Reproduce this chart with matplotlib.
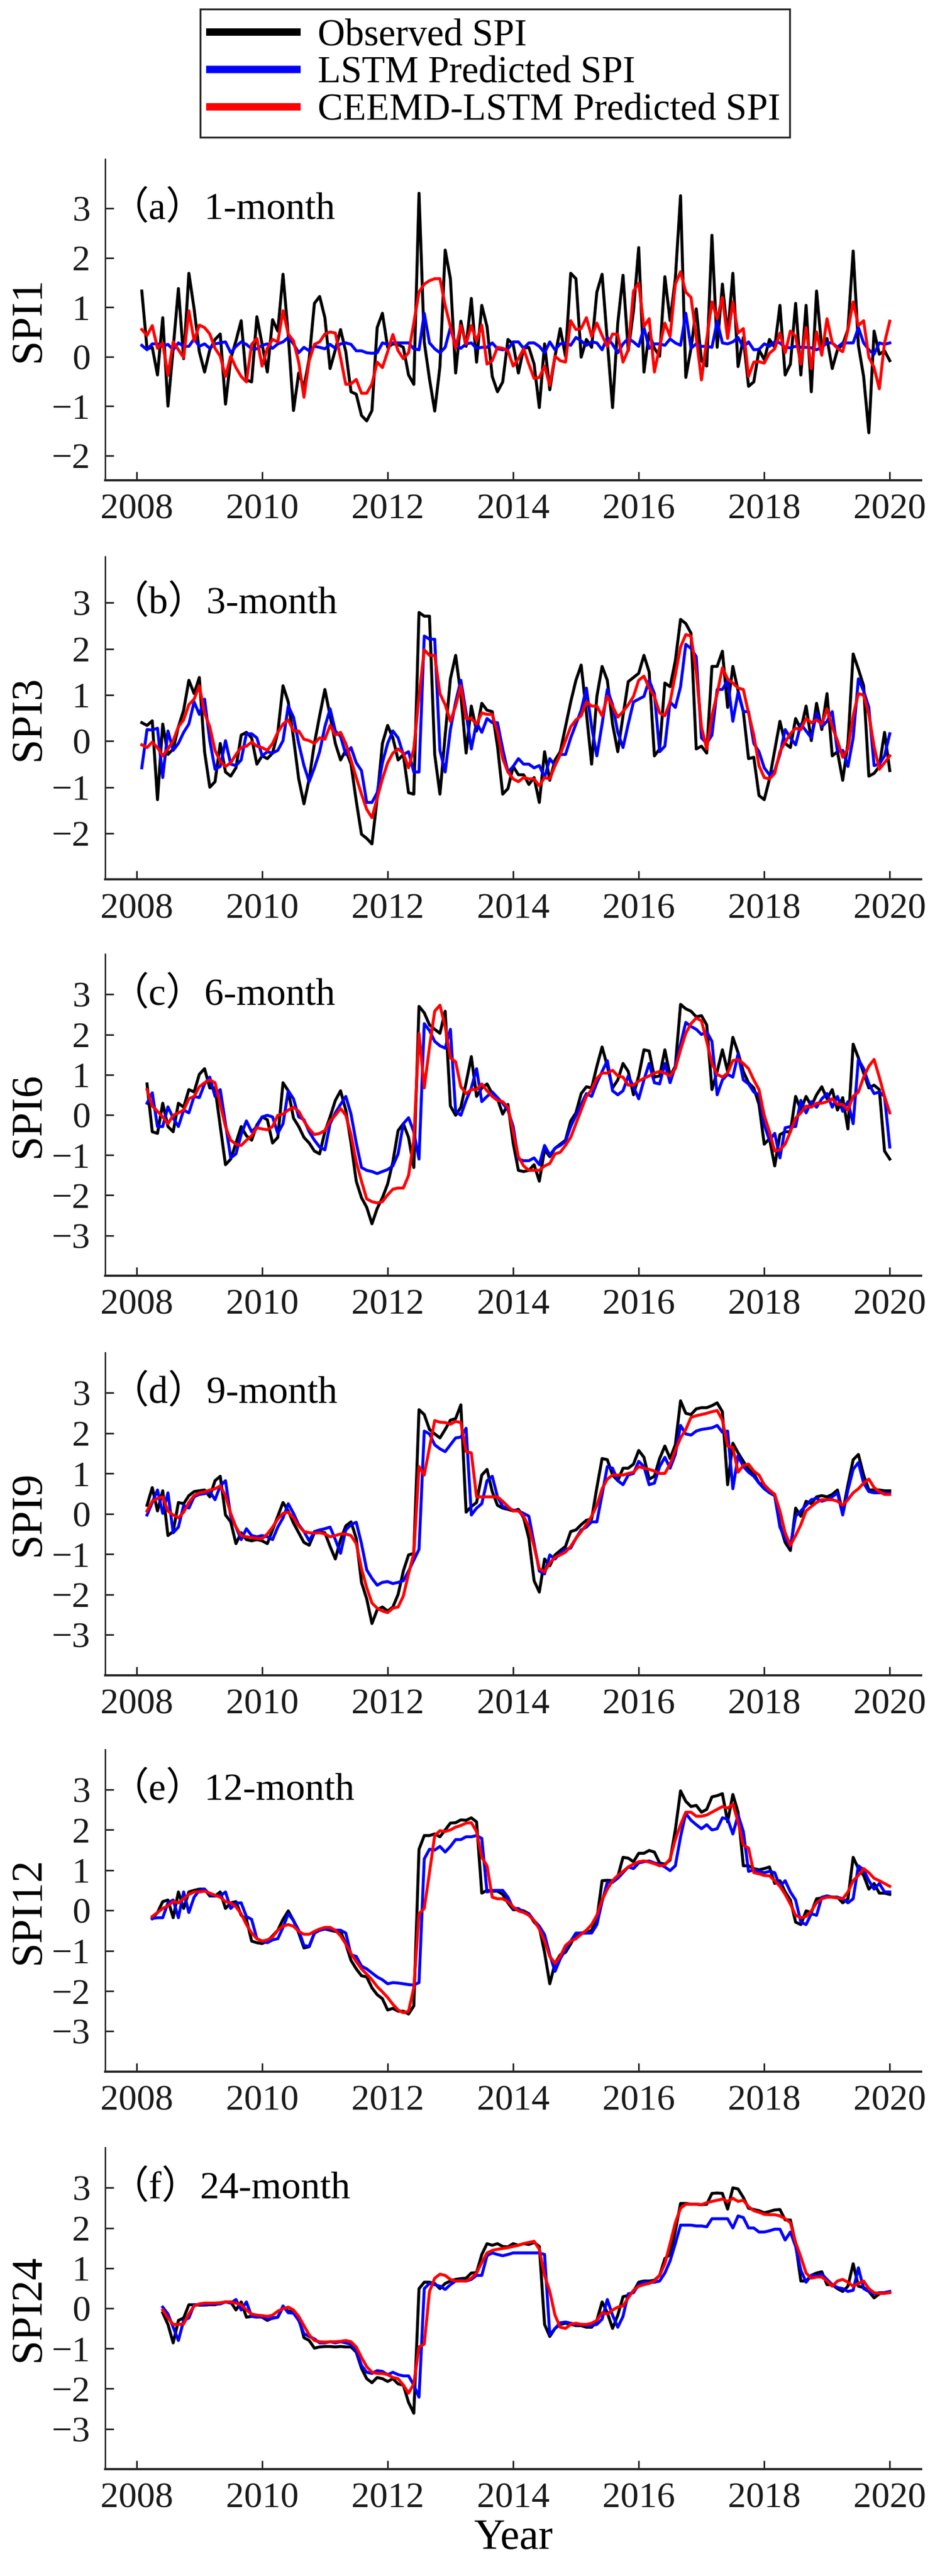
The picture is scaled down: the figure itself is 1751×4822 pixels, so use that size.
import numpy as np
import matplotlib
matplotlib.use("Agg")
import matplotlib.pyplot as plt

plt.rcParams.update({
    "font.family": ["Liberation Serif", "Noto Sans CJK SC"],
    "font.size": 49,
    "axes.unicode_minus": True,
})

# monthly SPI values, series end in Jan 2020
spi1_obs = [1.33, 0.16, 0.19, -0.37, 0.79, -1.00, 0.17, 1.38, -0.04, 1.69, 0.97, 0.10,
            -0.31, 0.14, 0.35, 0.46, -0.96, -0.04, 0.32, 0.73, -0.47, -0.51, 0.81, 0.25,
            -0.31, 0.75, 0.52, 1.67, 0.43, -1.09, -0.33, -0.62, -0.04, 1.08, 1.22, 0.79,
            -0.24, 0.14, 0.55, 0.10, -0.71, -0.76, -1.19, -1.30, -1.09, 0.59, 0.88, 0.19,
            0.26, 0.25, 0.19, -0.37, -0.56, 3.31, 0.30, -0.45, -1.10, -0.20, 2.16, 1.58,
            -0.33, 0.72, 0.21, 1.18, -0.11, 1.04, 0.61, -0.40, -0.71, -0.51, 0.35, 0.25,
            -0.33, 0.17, 0.19, -0.15, -1.03, 0.26, -0.67, 0.01, 0.57, 0.01, 1.69, 1.58,
            -0.01, 0.35, 0.19, 1.31, 1.67, 0.32, -1.03, 0.68, 1.65, 0.12, 0.93, 2.21,
            -0.31, 0.48, 0.17, 0.01, 1.62, 0.73, 1.58, 3.26, -0.42, 0.17, 0.97, -0.08,
            -0.19, 2.46, 0.19, 1.47, 0.43, 1.69, -0.20, 0.39, -0.60, -0.51, 0.14, -0.06,
            0.35, 0.19, 1.04, -0.37, -0.15, 1.08, -0.37, 1.04, -0.71, 1.33, 0.17, 0.37,
            -0.24, 0.14, 0.25, 0.55, 2.14, 0.23, -0.40, -1.54, 0.52, 0.05, 0.12, -0.08]
spi1_lstm = [0.23, 0.14, 0.26, 0.26, 0.21, 0.25, 0.14, 0.28, 0.21, 0.21, 0.36, 0.21,
             0.26, 0.17, 0.26, 0.28, 0.30, 0.08, 0.21, 0.30, 0.25, 0.16, 0.16, 0.23,
             0.26, 0.17, 0.26, 0.30, 0.39, 0.26, 0.08, 0.19, 0.12, 0.21, 0.19, 0.16,
             0.25, 0.17, 0.26, 0.28, 0.25, 0.12, 0.12, 0.08, 0.07, 0.08, 0.28, 0.25,
             0.28, 0.28, 0.28, 0.28, 0.16, 0.14, 0.88, 0.28, 0.16, 0.08, 0.19, 0.59,
             0.25, 0.17, 0.26, 0.28, 0.17, 0.19, 0.19, 0.28, 0.16, 0.14, 0.16, 0.30,
             0.30, 0.17, 0.28, 0.28, 0.21, 0.08, 0.30, 0.14, 0.26, 0.28, 0.23, 0.39,
             0.32, 0.23, 0.30, 0.28, 0.14, 0.39, 0.25, 0.08, 0.26, 0.37, 0.30, 0.21,
             0.59, 0.17, 0.26, 0.26, 0.23, 0.36, 0.28, 0.23, 0.88, 0.17, 0.26, 0.21,
             0.21, 0.19, 0.72, 0.28, 0.26, 0.30, 0.39, 0.19, 0.30, 0.14, 0.15, 0.26,
             0.21, 0.30, 0.28, 0.19, 0.18, 0.21, 0.19, 0.19, 0.18, 0.14, 0.19, 0.28,
             0.28, 0.19, 0.28, 0.28, 0.28, 0.59, 0.28, 0.14, 0.05, 0.28, 0.25, 0.28]
spi1_ceemd = [0.55, 0.43, 0.63, 0.17, 0.28, -0.38, 0.30, 0.14, -0.02, 0.93, 0.32, 0.64,
              0.59, 0.46, 0.17, 0.01, -0.40, 0.01, -0.22, -0.40, -0.51, 0.25, 0.37, -0.19,
              0.17, 0.35, 0.30, 0.93, 0.46, 0.32, -0.11, -0.82, -0.08, 0.25, 0.30, 0.46,
              0.50, 0.48, -0.02, -0.56, -0.55, -0.46, -0.74, -0.74, -0.55, -0.11, -0.22, 0.10,
              0.45, 0.12, -0.04, 0.08, 0.68, 1.31, 1.47, 1.54, 1.58, 1.58, 1.04, 0.61,
              0.17, 0.63, 0.26, 0.63, 0.32, 0.64, -0.15, -0.08, 0.19, 0.17, 0.12, -0.19,
              -0.04, 0.16, -0.15, -0.44, -0.42, -0.19, -0.58, 0.01, -0.08, -0.11, 0.73, 0.55,
              0.57, 0.79, 0.41, 0.68, 0.43, 0.21, 0.46, 0.45, -0.11, 0.14, 1.33, 1.49,
              0.61, 0.77, -0.31, 0.20, 0.68, 0.41, 1.47, 1.72, 1.31, 1.20, 0.40, -0.47,
              0.35, 1.11, 0.77, 1.20, 0.37, 1.11, 0.48, 0.57, -0.40, -0.11, -0.10, -0.13,
              0.07, 0.16, 0.48, 0.08, 0.52, 0.41, -0.15, 0.59, -0.24, 0.50, 0.03, 0.77,
              0.28, 0.17, 0.10, 0.54, 1.11, 0.63, 0.73, -0.01, -0.22, -0.65, 0.28, 0.72]

spi3_obs = [0.40, 0.34, 0.44, -1.27, 0.37, -0.29, -0.17, 0.31, 0.67, 1.32, 1.03, 1.38,
            -0.23, -1.00, -0.88, -0.05, -0.67, -0.76, -0.58, 0.13, 0.19, 0.07, -0.50, -0.32,
            -0.38, -0.26, 0.19, 1.20, 0.85, 0.07, -0.82, -1.36, -0.82, -0.05, 0.55, 1.12,
            0.55, -0.05, -0.41, -0.20, -0.50, -1.30, -2.02, -2.11, -2.23, -1.24, -0.05, 0.34,
            0.07, -0.41, -0.29, -1.12, -1.15, 2.79, 2.71, 2.71, -0.29, -1.15, 0.13, 1.35,
            1.86, 1.00, -0.26, 0.76, 0.22, 0.82, 0.67, 0.64, -0.11, -1.15, -1.03, -0.55,
            -0.73, -0.73, -0.94, -0.79, -1.33, -0.23, -0.85, -0.41, -0.23, 0.31, 0.85, 1.32,
            1.65, 0.61, -0.50, 0.97, 1.62, 1.32, 0.37, -0.23, 0.55, 1.29, 1.38, 1.47,
            1.86, 1.50, -0.32, -0.17, 1.26, 1.18, 1.74, 2.64, 2.55, 2.34, -0.17, -0.11,
            -0.26, 1.62, 1.62, 1.95, 0.73, 1.62, 1.09, 0.64, -0.38, -0.35, -1.18, -1.27,
            -0.82, -0.20, 0.43, -0.05, -0.14, 0.49, 0.25, 0.76, 0.01, 0.82, 0.25, 1.03,
            -0.32, -0.23, -0.85, -0.05, 1.89, 1.56, 1.20, -0.76, -0.70, -0.55, 0.19, -0.64]
spi3_lstm = [-0.58, 0.25, 0.24, 0.28, -0.79, 0.22, -0.20, -0.05, 0.19, 0.37, 0.85, 0.58,
             0.91, 0.01, -0.61, -0.55, 0.01, -0.50, -0.53, -0.41, 0.16, 0.16, 0.07, -0.32,
             -0.23, -0.26, -0.20, 0.01, 0.76, 0.52, -0.05, -0.53, -0.88, -0.58, -0.23, 0.31,
             0.70, 0.22, 0.10, -0.29, -0.14, -0.47, -0.64, -1.33, -1.33, -1.12, -0.47, -0.05,
             0.22, 0.07, -0.29, -0.23, -0.67, -0.67, 2.28, 2.21, 2.21, -0.20, -0.67, 0.25,
             0.85, 1.32, 0.61, -0.17, 0.40, 0.19, 0.49, 0.40, 0.40, -0.17, -0.67, -0.55,
             -0.38, -0.50, -0.50, -0.58, -0.53, -0.79, -0.38, -0.53, -0.29, -0.29, 0.07, 0.37,
             0.67, 1.15, 0.31, -0.32, 0.37, 1.12, 0.79, 0.19, -0.14, 0.37, 0.85, 0.91,
             0.97, 1.32, 1.03, -0.23, -0.11, 0.85, 0.73, 1.18, 2.10, 2.01, 1.83, 0.07,
             -0.05, 0.13, 1.12, 1.12, 1.32, 0.43, 1.06, 0.64, 0.64, -0.05, -0.23, -0.58,
             -0.73, -0.64, -0.29, 0.25, 0.07, -0.08, 0.37, 0.22, 0.07, 0.61, 0.31, 0.43,
             0.64, -0.23, -0.20, -0.55, 0.07, 1.35, 1.09, 0.73, -0.53, -0.50, -0.32, 0.16]
spi3_ceemd = [-0.08, -0.14, -0.02, -0.14, -0.32, -0.17, 0.01, 0.31, 0.46, 0.79, 0.91, 1.20,
              0.61, 0.31, -0.20, -0.44, -0.55, -0.47, -0.29, -0.14, -0.11, -0.02, -0.11, -0.14,
              -0.20, -0.05, 0.19, 0.37, 0.46, 0.22, 0.22, 0.04, 0.01, -0.05, 0.07, 0.04,
              0.34, 0.13, 0.19, -0.05, -0.41, -0.79, -1.15, -1.48, -1.66, -1.24, -0.82, -0.47,
              -0.26, -0.17, -0.26, -0.58, -0.17, 0.97, 1.98, 1.86, 1.86, 1.03, 0.79, 0.43,
              0.76, 1.20, 0.49, 0.49, 0.37, 0.61, 0.58, 0.58, 0.19, -0.38, -0.67, -0.82,
              -0.88, -0.79, -0.82, -0.82, -0.97, -0.79, -0.82, -0.53, -0.29, 0.01, 0.31, 0.46,
              0.55, 0.85, 0.76, 0.76, 0.55, 0.97, 0.76, 0.52, 0.64, 0.79, 0.97, 1.32,
              1.41, 1.15, 0.97, 0.61, 0.55, 0.85, 1.44, 2.04, 2.31, 2.28, 1.50, 0.31,
              -0.17, 0.55, 1.03, 1.59, 1.35, 1.26, 1.15, 1.12, 0.61, 0.13, -0.53, -0.79,
              -0.82, -0.70, -0.23, -0.02, 0.16, 0.28, 0.25, 0.49, 0.40, 0.46, 0.37, 0.70,
              0.31, 0.01, -0.35, -0.17, 0.55, 1.03, 1.00, 0.58, -0.11, -0.61, -0.47, -0.32]

spi6_obs = [0.77, -0.42, -0.46, 0.29, -0.29, -0.42, 0.29, 0.19, 0.63, 0.57, 1.01, 1.15,
            0.67, 0.67, -0.29, -1.24, -1.10, -0.70, -0.29, -0.52, -0.63, -0.25, -0.05, -0.12,
            -0.70, -0.56, 0.80, 0.60, -0.08, -0.29, -0.56, -0.70, -0.90, -0.97, -0.42, -0.05,
            0.36, 0.60, 0.12, -0.70, -1.65, -2.06, -2.30, -2.71, -2.33, -2.06, -1.72, -1.17,
            -0.39, -0.22, -0.56, -1.31, 2.70, 2.54, 2.24, 2.13, 2.03, 2.58, 0.22, -0.01,
            0.19, 0.80, 1.45, 0.46, 0.67, 0.77, 0.53, 0.40, 0.02, 0.26, -0.70, -1.38,
            -1.41, -1.38, -1.24, -1.65, -0.87, -1.04, -0.83, -0.73, -0.63, -0.15, 0.05, 0.53,
            0.70, 0.67, 1.21, 1.69, 1.21, 0.67, 0.87, 1.28, 1.08, 0.50, 0.97, 1.62,
            1.59, 0.94, 0.97, 1.62, 0.97, 1.21, 2.75, 2.64, 2.58, 2.44, 2.47, 2.24,
            0.63, 1.08, 1.62, 1.08, 1.93, 1.55, 1.08, 0.80, 0.67, 0.26, -0.73, -0.59,
            -1.27, -0.49, -0.42, -0.42, 0.46, 0.12, 0.46, 0.22, 0.50, 0.70, 0.40, 0.63,
            0.12, 0.43, -0.35, 1.76, 1.42, 1.04, 0.67, 0.74, 0.63, -0.90, -1.10]
spi6_lstm = [0.29, 0.55, -0.29, -0.29, 0.20, -0.08, -0.29, 0.12, 0.05, 0.46, 0.43, 0.77,
             0.94, 0.46, 0.63, -0.22, -1.07, -0.97, -0.49, -0.15, -0.42, -0.29, -0.05, -0.01,
             -0.05, -0.46, -0.22, 0.60, 0.40, -0.05, -0.12, -0.42, -0.63, -0.80, -0.87, -0.22,
             0.05, 0.26, 0.46, 0.02, -0.70, -1.31, -1.38, -1.41, -1.46, -1.41, -1.36, -1.27,
             -0.97, -0.22, -0.07, -0.42, -1.10, 2.27, 2.10, 1.83, 1.72, 1.66, 2.13, 0.09,
             -0.01, 0.36, 0.67, 1.15, 0.33, 0.46, 0.57, 0.43, 0.29, 0.12, -0.29, -1.10,
             -1.14, -1.14, -1.07, -1.24, -0.76, -1.00, -0.83, -0.76, -0.66, -0.29, -0.01, 0.26,
             0.53, 0.46, 0.80, 1.08, 1.35, 0.60, 0.50, 0.60, 0.97, 0.70, 0.40, 0.87,
             1.28, 0.80, 0.77, 1.28, 0.80, 1.21, 1.76, 2.30, 2.20, 2.13, 2.00, 2.07,
             1.83, 0.50, 0.87, 1.01, 0.94, 1.52, 0.87, 0.77, 0.57, 0.50, -0.25, -0.63,
             -0.46, -1.07, -0.32, -0.29, -0.29, 0.36, 0.05, 0.33, 0.19, 0.40, 0.53, 0.19,
             0.46, 0.09, 0.33, -0.22, 1.38, 1.15, 0.77, 0.53, 0.57, 0.46, -0.80]
spi6_ceemd = [0.63, 0.22, 0.09, -0.05, -0.22, -0.01, 0.05, 0.12, 0.40, 0.46, 0.70, 0.80,
              0.87, 0.80, 0.26, -0.29, -0.63, -0.73, -0.76, -0.63, -0.52, -0.32, -0.35, -0.37,
              -0.29, -0.01, 0.02, 0.12, 0.19, 0.09, -0.15, -0.35, -0.49, -0.46, -0.39, -0.15,
              -0.01, 0.16, -0.01, -0.49, -1.17, -1.65, -2.09, -2.16, -2.19, -2.16, -1.99, -1.85,
              -1.82, -1.82, -1.51, -0.63, 2.03, 0.67, 1.69, 2.58, 2.73, 2.20, 1.42, 1.32,
              0.70, 0.53, 0.63, 0.63, 0.77, 0.60, 0.46, 0.36, 0.33, 0.19, -0.42, -1.04,
              -1.27, -1.38, -1.38, -1.38, -1.27, -1.21, -0.97, -0.93, -0.76, -0.56, -0.22, 0.12,
              0.46, 0.63, 0.91, 1.04, 1.04, 1.11, 0.97, 0.94, 0.74, 0.74, 0.84, 0.91,
              0.97, 1.04, 1.08, 1.04, 0.97, 1.15, 1.62, 2.03, 2.27, 2.41, 2.34, 1.83,
              1.28, 1.01, 0.94, 1.04, 1.35, 1.38, 1.28, 1.15, 0.87, 0.63, -0.01, -0.42,
              -0.90, -0.87, -0.73, -0.42, -0.08, 0.05, 0.22, 0.19, 0.29, 0.29, 0.33, 0.40,
              0.26, 0.26, 0.12, 0.46, 0.57, 0.94, 1.21, 1.38, 0.94, 0.46, 0.05]

spi9_obs = [0.21, 0.65, 0.07, 0.57, -0.54, -0.44, 0.28, 0.25, 0.45, 0.55, 0.57, 0.59,
            0.42, 0.82, 0.93, -0.03, -0.20, -0.74, -0.47, -0.64, -0.67, -0.64, -0.67, -0.74,
            -0.40, -0.06, 0.28, 0.07, -0.23, -0.47, -0.71, -0.78, -0.47, -0.44, -0.47, -0.81,
            -1.12, -0.64, -0.30, -0.20, -0.61, -1.70, -2.11, -2.72, -2.38, -2.31, -2.41, -2.31,
            -2.00, -1.42, -1.02, -0.98, 2.58, 2.46, 2.09, 1.98, 1.88, 2.09, 2.32, 2.36,
            2.70, 0.04, 0.18, 0.28, 0.96, 1.10, 0.55, 0.21, 0.14, 0.11, 0.07, 0.11,
            -0.10, -0.61, -1.66, -1.94, -1.12, -1.29, -1.02, -0.91, -0.81, -0.44, -0.40, -0.27,
            -0.16, -0.13, 0.65, 1.37, 1.34, 0.96, 0.82, 1.13, 1.13, 1.23, 1.57, 1.40,
            0.86, 0.93, 1.37, 1.68, 1.37, 1.71, 2.80, 2.49, 2.46, 2.60, 2.63, 2.63,
            2.68, 2.75, 2.53, 0.72, 1.75, 1.51, 1.30, 1.10, 1.00, 0.76, 0.72, 0.55,
            0.48, -0.27, -0.71, -0.91, 0.14, -0.06, 0.31, 0.25, 0.42, 0.45, 0.42, 0.48,
            0.59, 0.04, 0.72, 1.34, 1.47, 0.96, 0.59, 0.59, 0.59, 0.57, 0.57]
spi9_lstm = [-0.03, 0.28, 0.59, 0.01, 0.52, -0.47, -0.33, 0.21, 0.14, 0.42, 0.48, 0.50,
             0.55, 0.35, 0.69, 0.82, -0.06, -0.33, -0.64, -0.37, -0.54, -0.57, -0.54, -0.57,
             -0.64, -0.33, -0.10, 0.25, 0.01, -0.27, -0.44, -0.67, -0.44, -0.40, -0.37, -0.33,
             -0.64, -0.98, -0.40, -0.27, -0.21, -0.74, -1.39, -1.60, -1.77, -1.70, -1.68, -1.73,
             -1.70, -1.66, -1.42, -1.15, -0.88, 2.05, 1.98, 1.71, 1.61, 1.54, 1.71, 1.88,
             1.90, 2.12, -0.03, 0.14, 0.25, 0.82, 0.93, 0.42, 0.18, 0.14, 0.09, 0.07,
             0.01, -0.06, -0.74, -1.42, -1.49, -1.02, -1.12, -0.98, -0.88, -0.85, -0.61, -0.40,
             -0.33, -0.20, -0.20, 0.48, 1.17, 1.13, 0.82, 0.72, 0.96, 1.00, 1.30, 1.17,
             0.72, 0.76, 1.17, 1.40, 1.13, 1.47, 2.19, 1.98, 1.95, 2.05, 2.09, 2.11,
             2.13, 2.19, 2.02, 2.05, 0.62, 1.44, 1.17, 1.03, 0.93, 0.76, 0.62, 0.52,
             0.45, -0.33, -0.61, -0.81, -0.06, 0.07, 0.21, 0.35, 0.38, 0.31, 0.35, 0.42,
             0.52, -0.03, 0.59, 1.10, 1.27, 0.76, 0.55, 0.52, 0.52, 0.52, 0.50]
spi9_ceemd = [0.07, 0.31, 0.38, 0.42, 0.07, -0.03, -0.10, 0.04, 0.28, 0.45, 0.52, 0.54,
              0.59, 0.62, 0.69, 0.45, 0.01, -0.33, -0.54, -0.57, -0.59, -0.61, -0.62, -0.50,
              -0.33, -0.13, 0.01, 0.04, -0.10, -0.30, -0.44, -0.47, -0.48, -0.47, -0.50, -0.57,
              -0.54, -0.50, -0.50, -0.54, -0.74, -1.36, -1.83, -2.21, -2.34, -2.41, -2.45, -2.34,
              -2.31, -2.04, -1.49, -0.98, 1.17, 0.96, 1.64, 2.31, 2.27, 2.26, 2.22, 2.29,
              2.26, 1.54, 1.51, 0.42, 0.42, 0.42, 0.42, 0.42, 0.31, 0.18, 0.07, 0.07,
              -0.06, -0.33, -0.81, -1.36, -1.44, -1.22, -1.08, -1.02, -0.95, -0.81, -0.61, -0.44,
              -0.27, -0.06, 0.21, 0.62, 0.86, 0.96, 0.96, 0.96, 1.00, 1.03, 1.17, 1.13,
              1.10, 1.06, 1.00, 1.00, 1.23, 1.57, 1.88, 2.09, 2.39, 2.43, 2.46, 2.49,
              2.53, 2.56, 2.32, 1.68, 1.64, 1.03, 1.20, 1.23, 1.06, 0.96, 0.72, 0.59,
              0.48, 0.07, -0.47, -0.78, -0.54, -0.27, 0.07, 0.18, 0.28, 0.35, 0.35, 0.35,
              0.31, 0.21, 0.35, 0.52, 0.62, 0.76, 0.86, 0.65, 0.55, 0.48, 0.48]

spi12_obs = [-0.20, -0.05, 0.22, 0.26, -0.18, 0.46, 0.05, 0.46, 0.50, 0.53, 0.53,
             0.36, 0.36, 0.46, 0.05, 0.19, 0.22, -0.12, -0.22, -0.76, -0.80, -0.82, -0.76,
             -0.63, -0.49, -0.22, -0.01, -0.25, -0.56, -0.93, -0.90, -0.56, -0.49, -0.46, -0.49,
             -0.52, -0.52, -0.83, -1.24, -1.45, -1.62, -1.65, -1.92, -2.09, -2.19, -2.47, -2.43,
             -2.50, -2.50, -2.57, -2.37, 1.52, 1.86, 1.86, 1.90, 1.83, 2.00, 2.17, 2.18,
             2.25, 2.24, 2.30, 2.20, 0.43, 0.50, 0.48, 0.48, 0.40, 0.19, 0.02, 0.02,
             -0.01, -0.08, -0.29, -0.42, -1.04, -1.82, -1.31, -1.10, -1.04, -0.83, -0.59, -0.56,
             -0.56, -0.49, -0.22, 0.74, 0.75, 0.74, 0.84, 1.32, 1.30, 1.21, 1.42, 1.42,
             1.49, 1.45, 1.18, 1.15, 1.25, 2.00, 2.97, 2.71, 2.58, 2.61, 2.44, 2.51,
             2.82, 2.85, 2.90, 2.20, 2.88, 2.44, 1.11, 1.11, 1.04, 1.01, 1.04, 1.08,
             0.67, 0.74, 0.46, 0.26, -0.29, -0.35, -0.01, -0.05, 0.29, 0.31, 0.36, 0.33,
             0.33, 0.19, 0.29, 1.32, 1.04, 0.87, 0.53, 0.67, 0.43, 0.43, 0.40]
spi12_lstm = [-0.20, -0.18, -0.18, 0.19, 0.26, -0.18, 0.46, -0.05, 0.33, 0.50, 0.53,
              0.40, 0.36, 0.36, 0.46, 0.05, 0.18, 0.19, -0.15, -0.22, -0.70, -0.76, -0.80,
              -0.73, -0.70, -0.42, -0.08, -0.25, -0.49, -0.87, -0.89, -0.56, -0.49, -0.46, -0.46,
              -0.49, -0.49, -0.56, -1.10, -1.14, -1.38, -1.45, -1.55, -1.65, -1.72, -1.82, -1.79,
              -1.80, -1.82, -1.84, -1.85, -1.79, 1.28, 1.52, 1.50, 1.59, 1.45, 1.59, 1.76,
              1.76, 1.83, 1.83, 1.86, 1.79, 0.46, 0.50, 0.50, 0.50, 0.33, 0.05, 0.05,
              -0.05, -0.08, -0.25, -0.39, -0.60, -1.10, -1.51, -1.20, -0.97, -0.76, -0.56, -0.56,
              -0.56, -0.56, -0.35, 0.22, 0.70, 0.70, 0.80, 0.94, 1.08, 1.04, 1.18, 1.21,
              1.23, 1.18, 1.15, 1.08, 0.99, 1.11, 1.83, 2.41, 2.24, 2.13, 2.03, 2.13,
              2.00, 2.03, 2.30, 2.27, 1.90, 2.37, 1.96, 0.97, 1.01, 0.97, 0.94, 0.97,
              0.94, 0.60, 0.74, 0.46, 0.26, -0.29, -0.35, -0.08, -0.12, 0.33, 0.36, 0.33,
              0.33, 0.29, 0.19, 0.29, 1.11, 1.01, 0.74, 0.53, 0.67, 0.46, 0.46]
spi12_ceemd = [-0.15, -0.05, 0.05, 0.12, 0.22, 0.19, 0.29, 0.40, 0.46, 0.46, 0.48,
               0.43, 0.38, 0.33, 0.22, 0.19, 0.09, -0.08, -0.35, -0.56, -0.70, -0.76, -0.73,
               -0.66, -0.49, -0.39, -0.35, -0.39, -0.52, -0.59, -0.59, -0.52, -0.46, -0.42, -0.42,
               -0.49, -0.63, -0.83, -1.07, -1.27, -1.45, -1.58, -1.72, -1.89, -2.02, -2.16, -2.33,
               -2.47, -2.54, -2.50, -1.92, -0.08, 0.05, 0.94, 1.86, 1.98, 1.96, 2.00, 2.07,
               2.11, 2.17, 2.18, 1.96, 1.32, 1.11, 0.33, 0.29, 0.29, 0.22, 0.09, -0.01,
               -0.05, -0.12, -0.25, -0.46, -0.76, -1.14, -1.31, -1.14, -0.87, -0.76, -0.70, -0.59,
               -0.49, -0.35, -0.12, 0.26, 0.53, 0.74, 0.87, 0.97, 1.08, 1.15, 1.21, 1.23,
               1.20, 1.16, 1.11, 1.13, 1.28, 1.76, 2.13, 2.44, 2.44, 2.34, 2.34, 2.37,
               2.44, 2.51, 2.58, 2.54, 2.64, 2.20, 1.62, 1.55, 0.94, 0.91, 0.87, 0.86,
               0.74, 0.60, 0.40, 0.16, -0.12, -0.18, -0.15, -0.01, 0.19, 0.29, 0.33, 0.33,
               0.31, 0.29, 0.46, 0.74, 0.87, 1.04, 0.94, 0.80, 0.74, 0.67, 0.60]

spi24_obs = [-0.11, -0.40, -0.86, -0.30, -0.24, 0.09, 0.09, 0.08, 0.08,
             0.09, 0.09, 0.13, 0.16, 0.16, -0.04, 0.16, -0.22, -0.20, -0.20, -0.22, -0.30,
             -0.24, -0.22, 0.03, -0.07, -0.07, -0.24, -0.73, -0.80, -0.99, -0.96, -0.95, -0.95,
             -0.96, -0.95, -0.96, -0.96, -1.09, -1.49, -1.75, -1.85, -1.72, -1.75, -1.82, -1.75,
             -1.88, -1.91, -2.34, -2.61, 0.49, 0.65, 0.65, 0.62, 0.49, 0.62, 0.68, 0.72,
             0.74, 0.75, 0.88, 0.89, 1.34, 1.61, 1.57, 1.61, 1.54, 1.53, 1.61, 1.57,
             1.61, 1.59, 1.64, 1.54, -0.40, -0.70, -0.50, -0.40, -0.37, -0.40, -0.43, -0.43,
             -0.47, -0.47, -0.30, 0.16, -0.11, -0.50, -0.17, 0.29, 0.32, 0.42, 0.65, 0.68,
             0.68, 0.70, 0.82, 1.24, 1.34, 1.93, 2.61, 2.61, 2.59, 2.59, 2.58, 2.59,
             2.86, 2.87, 2.86, 2.47, 3.00, 2.97, 2.76, 2.49, 2.46, 2.43, 2.38, 2.41,
             2.45, 2.46, 2.20, 2.20, 1.61, 0.68, 0.68, 0.82, 0.88, 0.91, 0.59, 0.59,
             0.49, 0.42, 0.55, 1.11, 0.55, 0.52, 0.42, 0.26, 0.36, 0.39, 0.41]
spi24_lstm = [0.03, -0.14, -0.47, -0.80, -0.30, -0.24, 0.09, 0.09, 0.09,
              0.11, 0.11, 0.11, 0.16, 0.13, 0.22, -0.04, 0.16, -0.20, -0.22, -0.20, -0.27,
              -0.25, -0.22, 0.06, -0.11, -0.12, -0.30, -0.63, -0.70, -0.76, -0.86, -0.86, -0.83,
              -0.86, -0.83, -0.86, -0.89, -1.06, -1.42, -1.59, -1.62, -1.55, -1.57, -1.65, -1.59,
              -1.65, -1.68, -1.68, -1.91, -2.21, 0.49, 0.62, 0.59, 0.55, 0.47, 0.59, 0.68,
              0.70, 0.68, 0.72, 0.82, 0.82, 1.31, 1.38, 1.34, 1.31, 1.34, 1.38, 1.38,
              1.38, 1.38, 1.38, 1.38, 1.34, -0.66, -0.50, -0.36, -0.34, -0.37, -0.40, -0.40,
              -0.43, -0.43, -0.40, -0.27, 0.22, -0.17, -0.47, -0.20, 0.36, 0.39, 0.59, 0.65,
              0.65, 0.65, 0.68, 0.88, 1.18, 1.61, 2.07, 2.07, 2.07, 2.05, 2.05, 2.03,
              2.23, 2.23, 2.23, 2.23, 2.00, 2.30, 2.26, 2.00, 2.00, 1.90, 1.90, 1.93,
              1.97, 1.97, 1.70, 1.90, 1.54, 0.95, 0.65, 0.82, 0.82, 0.85, 0.72, 0.59,
              0.52, 0.49, 0.42, 0.45, 1.01, 0.49, 0.42, 0.36, 0.39, 0.39, 0.42]
spi24_ceemd = [-0.04, -0.24, -0.40, -0.40, -0.39, -0.14, 0.06, 0.11, 0.13,
               0.13, 0.13, 0.14, 0.16, 0.16, 0.13, 0.09, -0.04, -0.14, -0.17, -0.18, -0.20,
               -0.17, -0.07, -0.01, 0.03, -0.04, -0.20, -0.43, -0.66, -0.80, -0.83, -0.84, -0.83,
               -0.83, -0.82, -0.80, -0.83, -0.96, -1.22, -1.45, -1.59, -1.62, -1.62, -1.65, -1.72,
               -1.75, -1.91, -2.11, -1.88, -0.96, -0.89, 0.42, 0.75, 0.85, 0.82, 0.72, 0.68,
               0.68, 0.68, 0.75, 0.88, 1.14, 1.38, 1.44, 1.47, 1.49, 1.51, 1.54, 1.57,
               1.61, 1.64, 1.67, 1.47, 0.82, 0.42, -0.17, -0.47, -0.50, -0.40, -0.37, -0.40,
               -0.40, -0.37, -0.30, -0.11, -0.14, -0.04, 0.03, 0.06, 0.26, 0.45, 0.55, 0.59,
               0.62, 0.68, 0.82, 1.11, 1.61, 2.13, 2.49, 2.59, 2.59, 2.59, 2.58, 2.63,
               2.66, 2.69, 2.72, 2.66, 2.74, 2.66, 2.69, 2.53, 2.43, 2.39, 2.34, 2.33,
               2.33, 2.30, 2.23, 2.13, 1.64, 1.28, 0.88, 0.75, 0.78, 0.78, 0.68, 0.55,
               0.68, 0.72, 0.65, 0.55, 0.62, 0.68, 0.49, 0.39, 0.37, 0.37, 0.39]

panel_titles = ["（a）1-month", "（b）3-month", "（c）6-month",
                "（d）9-month", "（e）12-month", "（f）24-month"]
ylabels = ["SPI1", "SPI3", "SPI6", "SPI9", "SPI12", "SPI24"]
observed = [spi1_obs, spi3_obs, spi6_obs, spi9_obs, spi12_obs, spi24_obs]
lstm = [spi1_lstm, spi3_lstm, spi6_lstm, spi9_lstm, spi12_lstm, spi24_lstm]
ceemd = [spi1_ceemd, spi3_ceemd, spi6_ceemd, spi9_ceemd, spi12_ceemd, spi24_ceemd]
year_ticks = [2008, 2010, 2012, 2014, 2016, 2018, 2020]


def month_axis(values):
    # monthly steps, last value at 2020.0
    n = len(values)
    return 2008 + np.arange(145 - n, 145) / 12.0


fig = plt.figure(figsize=(17.51, 48.22), dpi=100)

bottoms = [0.8136, 0.6586, 0.5048, 0.3497, 0.1958, 0.0415]
heights = [0.1246, 0.1253, 0.1248, 0.1253, 0.1251, 0.1248]
ylims = [(-2.5, 4), (-3, 4), (-4, 4), (-4, 4), (-4, 4), (-4, 4)]
yticks = [range(-2, 4), range(-2, 4), range(-3, 4), range(-3, 4), range(-3, 4), range(-3, 4)]

axes = []
for i in range(6):
    ax = fig.add_axes([0.1125, bottoms[i], 0.8727, heights[i]])
    ax.plot(month_axis(observed[i]), observed[i], color="black", lw=4, label="Observed SPI")
    ax.plot(month_axis(lstm[i]), lstm[i], color="blue", lw=4, label="LSTM Predicted SPI")
    ax.plot(month_axis(ceemd[i]), ceemd[i], color="red", lw=4, label="CEEMD-LSTM Predicted SPI")

    ax.set_xlim(2007.5, 2020.5)
    ax.set_ylim(*ylims[i])
    ax.set_xticks(year_ticks)
    ax.set_xticklabels([str(y) for y in year_ticks])
    ax.set_yticks(list(yticks[i]))

    ax.spines["top"].set_visible(False)
    ax.spines["right"].set_visible(False)
    ax.spines["left"].set_linewidth(2.0)
    ax.spines["bottom"].set_linewidth(3.0)
    ax.spines["left"].set_color("#262626")
    ax.spines["bottom"].set_color("#262626")
    ax.tick_params(direction="in", length=11.5, width=2.2, colors="#262626", labelcolor="#1a1a1a")
    ax.tick_params(axis="x", pad=18)
    ax.tick_params(axis="y", pad=20)

    ax.set_ylabel(ylabels[i], fontsize=59)
    ax.yaxis.set_label_coords(-0.069, 0.5)
    ax.text(0.0065, 3, panel_titles[i], transform=ax.get_yaxis_transform(),
            ha="left", va="center", fontsize=52)
    axes.append(ax)

axes[-1].set_xlabel("Year", fontsize=58, labelpad=5)

handles, labels = axes[0].get_legend_handles_labels()
leg = fig.legend(handles, labels, loc="upper left",
                 bbox_to_anchor=(375 / 1751, 1 - 17 / 4822), borderaxespad=0,
                 fancybox=False, shadow=False, framealpha=1, edgecolor="#262626",
                 handlelength=2.3, handletextpad=0.55, borderpad=0.25,
                 labelspacing=0.07, fontsize=51)
leg.get_frame().set_linewidth(2.5)
for line in leg.get_lines():
    line.set_linewidth(10)

fig.savefig("out.png", dpi=100)
